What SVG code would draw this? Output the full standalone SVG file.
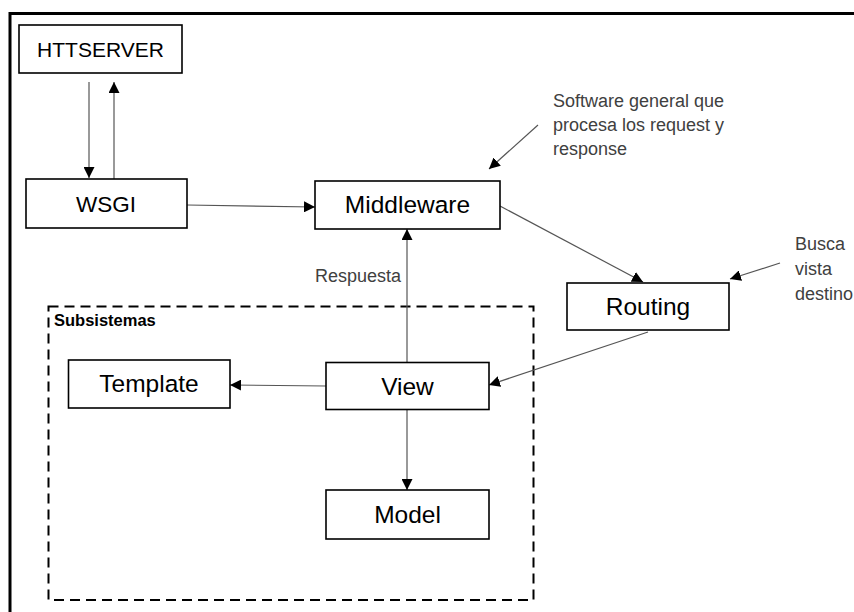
<svg xmlns="http://www.w3.org/2000/svg" width="854" height="612" viewBox="0 0 854 612">
  <defs>
    <marker id="arr" markerUnits="userSpaceOnUse" markerWidth="11" markerHeight="11" refX="11" refY="5.5" orient="auto">
      <path d="M0,0 L11,5.5 L0,11 z" fill="#000"/>
    </marker>
    <style>
      .box { fill: #fff; stroke: #000; stroke-width: 1.6; }
      .lbl { font-family: "Liberation Sans", Arial, sans-serif; font-size: 24.5px; fill: #000; text-anchor: middle; }
      .note { font-family: "Liberation Sans", Arial, sans-serif; font-size: 18px; fill: #404040; }
      .conn { stroke: #555; stroke-width: 1.2; fill: none; marker-end: url(#arr); }
    </style>
  </defs>
  <rect width="854" height="612" fill="#fff"/>
  <!-- outer frame -->
  <path d="M10,612 L10,13.5 L854,13.5" fill="none" stroke="#000" stroke-width="3"/>

  <!-- Subsistemas group -->
  <g id="subsistemas">
    <rect x="48.5" y="306.5" width="485" height="293.5" fill="none" stroke="#000" stroke-width="2" stroke-dasharray="10,6"/>
    <text x="54" y="326" font-family="Liberation Sans, Arial, sans-serif" font-size="16.5" font-weight="bold" fill="#000">Subsistemas</text>
  </g>

  <g id="connectors">
    <line class="conn" x1="89" y1="82" x2="89" y2="178"/>
    <line class="conn" x1="114" y1="180" x2="114" y2="82"/>
    <line class="conn" x1="187" y1="205" x2="315" y2="207"/>
    <line class="conn" x1="500" y1="206" x2="643" y2="282"/>
    <line class="conn" x1="648" y1="332" x2="489" y2="385"/>
    <line class="conn" x1="407" y1="362" x2="407" y2="229"/>
    <line class="conn" x1="326" y1="386" x2="230" y2="385"/>
    <line class="conn" x1="407" y1="409" x2="407" y2="490"/>
    <line class="conn" x1="538" y1="125" x2="489" y2="169"/>
    <line class="conn" x1="780" y1="263" x2="730" y2="279"/>
  </g>

  <g id="httserver">
    <rect class="box" x="19" y="25" width="163" height="48"/>
    <text class="lbl" x="100.5" y="57" style="font-size:21px">HTTSERVER</text>
  </g>
  <g id="wsgi">
    <rect class="box" x="26" y="179" width="161" height="49"/>
    <text class="lbl" x="106" y="212" style="font-size:22.5px">WSGI</text>
  </g>
  <g id="middleware">
    <rect class="box" x="315" y="181" width="185" height="48"/>
    <text class="lbl" x="407.5" y="213">Middleware</text>
  </g>
  <g id="routing">
    <rect class="box" x="567" y="283" width="162" height="47"/>
    <text class="lbl" x="648" y="315">Routing</text>
  </g>
  <g id="template">
    <rect class="box" x="68.5" y="360" width="161.5" height="48"/>
    <text class="lbl" x="149" y="392">Template</text>
  </g>
  <g id="view">
    <rect class="box" x="326" y="362.5" width="163" height="47"/>
    <text class="lbl" x="407.5" y="395">View</text>
  </g>
  <g id="model">
    <rect class="box" x="326" y="490" width="163" height="49"/>
    <text class="lbl" x="407.5" y="523">Model</text>
  </g>

  <g id="notes">
    <text class="note" x="553" y="107">Software general que</text>
    <text class="note" x="553" y="131">procesa los request y</text>
    <text class="note" x="553" y="155">response</text>
    <text class="note" x="795" y="250">Busca</text>
    <text class="note" x="795" y="275">vista</text>
    <text class="note" x="795" y="300">destino</text>
    <text class="note" x="315" y="282">Respuesta</text>
  </g>
</svg>
